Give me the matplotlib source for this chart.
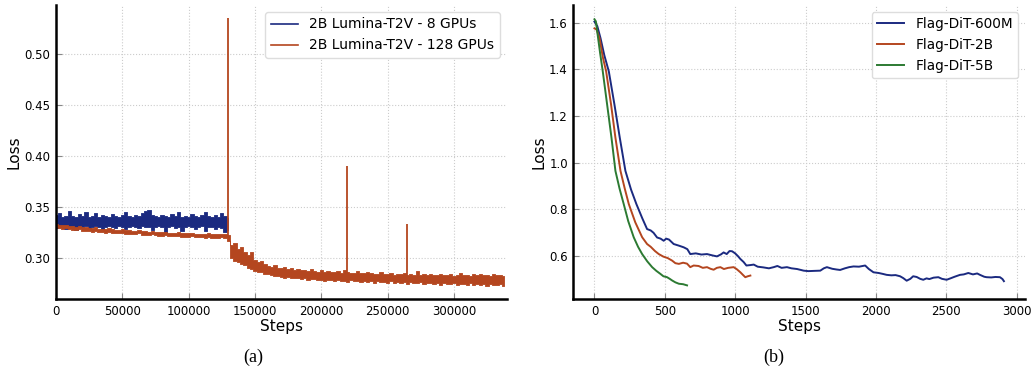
import numpy as np
import matplotlib
matplotlib.use("Agg")
import matplotlib.pyplot as plt

# ---------------- data: panel (a) ----------------
# noise-band envelopes (upper / lower) read every 2500 steps
step_a = 2500
gpu8_upper = [0.342,0.344,0.340,0.341,0.346,0.341,0.340,0.343,0.341,0.345,
              0.340,0.341,0.344,0.340,0.342,0.341,0.340,0.343,0.341,0.340,
              0.342,0.345,0.341,0.340,0.342,0.341,0.344,0.346,0.347,0.342,
              0.341,0.340,0.342,0.341,0.340,0.343,0.341,0.345,0.340,0.341,
              0.340,0.343,0.341,0.340,0.342,0.345,0.341,0.340,0.342,0.340,
              0.344,0.341,0.339]
gpu8_lower = [0.329,0.330,0.331,0.328,0.330,0.331,0.327,0.330,0.330,0.331,
              0.328,0.330,0.331,0.330,0.327,0.330,0.331,0.330,0.329,0.331,
              0.330,0.328,0.330,0.331,0.330,0.329,0.331,0.330,0.330,0.327,
              0.330,0.331,0.330,0.324,0.330,0.331,0.329,0.330,0.326,0.330,
              0.331,0.330,0.328,0.330,0.331,0.326,0.330,0.330,0.328,0.330,
              0.329,0.325,0.327]
gpu128_upper = [0.3330,0.3322,0.3318,0.3326,0.3312,0.3308,0.3306,0.3315,0.3300,0.3297,
                0.3295,0.3290,0.3298,0.3286,0.3284,0.3281,0.3290,0.3278,0.3276,0.3274,
                0.3280,0.3270,0.3268,0.3266,0.3264,0.3272,0.3260,0.3258,0.3256,0.3262,
                0.3253,0.3251,0.3249,0.3256,0.3246,0.3245,0.3243,0.3250,0.3241,0.3240,
                0.3238,0.3246,0.3236,0.3235,0.3234,0.3232,0.3240,0.3231,0.3230,0.3229,
                0.3236,0.3228,
                0.322,
                0.312,0.314,0.309,0.311,0.306,0.303,0.306,0.298,0.296,0.297,
                0.294,0.292,0.291,0.293,0.290,0.290,0.291,0.289,0.290,0.288,
                0.289,0.288,0.288,0.287,0.289,0.287,0.286,0.288,0.286,0.287,
                0.286,0.286,0.287,0.285,0.288,0.286,0.285,0.285,0.287,0.285,
                0.285,0.286,0.285,0.284,0.284,0.286,0.284,0.284,0.285,0.283,
                0.284,0.284,0.285,0.283,0.284,0.283,0.287,0.283,0.284,0.283,
                0.284,0.283,0.283,0.284,0.283,0.283,0.284,0.282,0.283,0.285,
                0.283,0.283,0.282,0.284,0.283,0.284,0.283,0.283,0.282,0.284,
                0.283,0.283,0.282]
gpu128_lower = [0.3298,0.3290,0.3285,0.3292,0.3278,0.3276,0.3270,0.3281,0.3266,0.3262,
                0.3263,0.3255,0.3263,0.3252,0.3250,0.3246,0.3256,0.3243,0.3240,0.3242,
                0.3246,0.3236,0.3232,0.3233,0.3229,0.3238,0.3226,0.3223,0.3222,0.3228,
                0.3219,0.3216,0.3215,0.3222,0.3212,0.3210,0.3209,0.3216,0.3206,0.3206,
                0.3203,0.3212,0.3202,0.3200,0.3199,0.3198,0.3205,0.3196,0.3195,0.3194,
                0.3201,0.3190,
                0.316,
                0.300,0.297,0.296,0.294,0.293,0.290,0.289,0.287,0.286,0.286,
                0.284,0.284,0.283,0.282,0.282,0.281,0.280,0.281,0.280,0.280,
                0.280,0.279,0.280,0.278,0.279,0.279,0.278,0.278,0.277,0.278,
                0.278,0.277,0.278,0.277,0.277,0.276,0.278,0.277,0.277,0.276,
                0.277,0.276,0.277,0.275,0.277,0.276,0.276,0.275,0.277,0.275,
                0.276,0.275,0.276,0.274,0.276,0.275,0.275,0.276,0.274,0.275,
                0.275,0.274,0.275,0.273,0.275,0.274,0.274,0.275,0.273,0.274,
                0.274,0.273,0.275,0.273,0.274,0.273,0.274,0.272,0.274,0.273,
                0.273,0.274,0.272]
spike_steps = [130000, 219300, 264500]
spike_base = [0.320, 0.283, 0.280]
spike_peak = [0.535, 0.390, 0.333]

# ---------------- data: panel (b) ----------------
steps_600m = [0,20,43,70,102,142,180,220,260,298,340,374,400,420,445,470,492,510,530,563,
              600,634,660,681,720,760,800,840,871,900,918,940,960,978,1000,1020,1037,1060,1080,1110,
              1132,1160,1200,1240,1274,1300,1330,1368,1400,1440,1487,1520,1560,1605,1630,1652,1690,1720,1746,1780,
              1810,1841,1880,1924,1950,1983,2020,2050,2077,2110,2140,2172,2195,2219,2245,2265,2290,2315,2337,2360,
              2380,2410,2444,2470,2503,2530,2560,2598,2625,2657,2690,2720,2740,2770,2787,2820,2850,2882,2900,2910]
loss_600m = [1.604,1.585,1.533,1.460,1.391,1.249,1.107,0.965,0.885,0.823,0.762,0.716,0.710,0.700,0.680,0.675,0.666,0.675,0.671,0.652,
             0.645,0.638,0.630,0.609,0.612,0.607,0.609,0.603,0.599,0.608,0.616,0.609,0.622,0.621,0.612,0.600,0.588,0.575,0.560,0.562,
             0.564,0.555,0.552,0.548,0.553,0.558,0.550,0.553,0.548,0.545,0.538,0.536,0.537,0.538,0.548,0.553,0.546,0.543,0.541,0.548,
             0.553,0.556,0.555,0.560,0.545,0.531,0.528,0.524,0.520,0.518,0.519,0.514,0.506,0.495,0.503,0.514,0.511,0.503,0.499,0.505,
             0.502,0.508,0.510,0.503,0.499,0.505,0.512,0.520,0.522,0.528,0.522,0.526,0.520,0.512,0.510,0.509,0.511,0.510,0.502,0.493]
steps_2b = [0,15,36,60,83,118,149,185,215,244,290,339,374,400,430,457,490,520,552,575,
            600,630,658,681,705,740,770,800,825,847,870,895,920,950,989,1010,1037,1055,1072,1090,1108]
loss_2b = [1.575,1.570,1.533,1.450,1.391,1.249,1.107,0.965,0.890,0.823,0.745,0.681,0.652,0.640,0.622,0.609,0.598,0.592,0.581,0.570,
           0.567,0.572,0.568,0.553,0.560,0.558,0.550,0.553,0.546,0.542,0.550,0.553,0.545,0.550,0.553,0.545,0.531,0.520,0.510,0.514,0.517]
steps_5b = [0,10,26,40,59,90,121,149,178,208,240,279,310,339,375,410,440,469,490,516,535,552,575,600,630,658]
loss_5b = [1.614,1.605,1.533,1.470,1.391,1.249,1.107,0.965,0.890,0.823,0.750,0.681,0.640,0.609,0.578,0.553,0.537,0.524,0.514,0.510,
           0.503,0.496,0.488,0.482,0.480,0.475]

BLUE = "#1b2a80"
ORANGE = "#b4461f"
GREEN = "#2c7a32"

plt.rcParams['font.family'] = ['DejaVu Sans']

fig = plt.figure(figsize=(10.34, 3.73), dpi=100)
axA = fig.add_axes([0.0542, 0.1984, 0.4361, 0.7882])
axB = fig.add_axes([0.5545, 0.1984, 0.4368, 0.7882])

def style(ax):
    for s in ["top", "right"]:
        ax.spines[s].set_visible(False)
    for s in ["left", "bottom"]:
        ax.spines[s].set_linewidth(1.8)
    ax.tick_params(direction="in", length=4, width=0.8, color="#888888", labelsize=8.5, pad=4)
    ax.grid(True, linestyle=":", color="#cccccc", linewidth=0.8)
    ax.set_axisbelow(True)
    ax.set_xlabel("Steps", fontsize=11, labelpad=1)
    ax.set_ylabel("Loss", fontsize=11, labelpad=2)

# panel (a)
xa_blue = np.arange(len(gpu8_upper)) * step_a
xa_orange = np.arange(len(gpu128_upper)) * step_a
axA.fill_between(xa_blue, gpu8_lower, gpu8_upper, step="mid", color=BLUE, lw=0.6, edgecolor=BLUE)
axA.plot([], [], color=BLUE, lw=1.2, label="2B Lumina-T2V - 8 GPUs")
axA.fill_between(xa_orange, gpu128_lower, gpu128_upper, step="mid", color=ORANGE, lw=0.6, edgecolor=ORANGE)
axA.plot([], [], color=ORANGE, lw=1.2, label="2B Lumina-T2V - 128 GPUs")
axA.vlines(spike_steps, spike_base, spike_peak, color=ORANGE, lw=1.3)
axA.set_xlim(0, 340000)
axA.set_ylim(0.2595, 0.548)
axA.set_xticks([0, 50000, 100000, 150000, 200000, 250000, 300000])
axA.set_yticks([0.30, 0.35, 0.40, 0.45, 0.50])
axA.set_yticklabels(["0.30", "0.35", "0.40", "0.45", "0.50"])
style(axA)
axA.legend(loc="upper right", fontsize=10, handlelength=2.0, framealpha=1,
           edgecolor="#dddddd", borderaxespad=0.5)

# panel (b)
axB.plot(steps_600m, loss_600m, color=BLUE, lw=1.4, label="Flag-DiT-600M")
axB.plot(steps_2b, loss_2b, color=ORANGE, lw=1.4, label="Flag-DiT-2B")
axB.plot(steps_5b, loss_5b, color=GREEN, lw=1.4, label="Flag-DiT-5B")
axB.set_xlim(-150, 3060)
axB.set_ylim(0.4167, 1.675)
axB.set_xticks([0, 500, 1000, 1500, 2000, 2500, 3000])
axB.set_yticks([0.6, 0.8, 1.0, 1.2, 1.4, 1.6])
style(axB)
axB.legend(loc="upper right", fontsize=9.8, handlelength=2.0, framealpha=1,
           edgecolor="#dddddd", borderaxespad=0.5)

fig.text(0.245, 0.042, "(a)", family=["Liberation Serif"], fontsize=13, ha="center", va="center")
fig.text(0.748, 0.042, "(b)", family=["Liberation Serif"], fontsize=13, ha="center", va="center")

fig.savefig("out.png", dpi=100)
